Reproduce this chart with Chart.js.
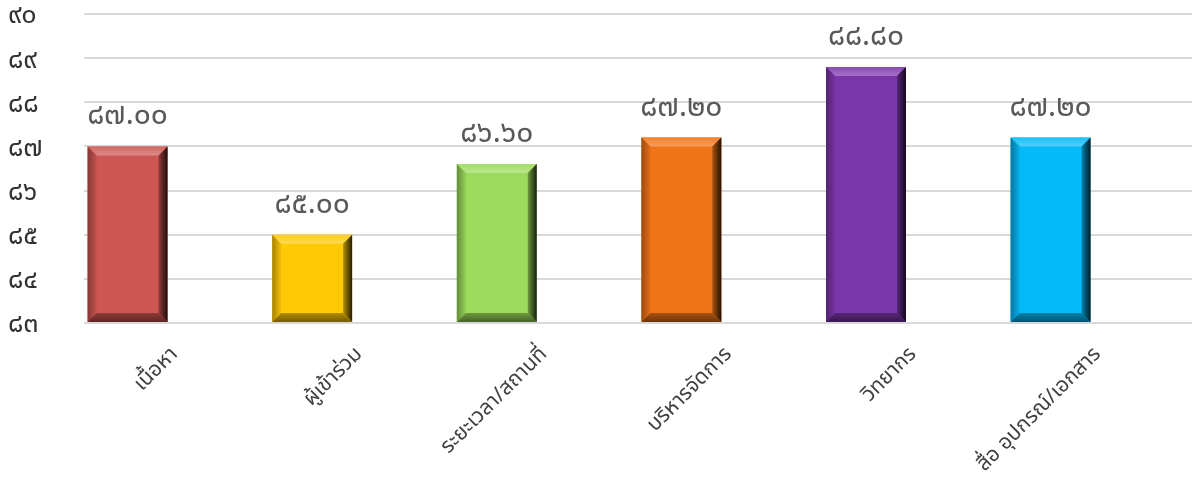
<!DOCTYPE html>
<html><head><meta charset="utf-8">
<script src="https://cdn.jsdelivr.net/npm/chart.js@4/dist/chart.umd.min.js"></script>
<style>html,body{margin:0;padding:0;background:#fff;}#wrap{width:1192px;height:481px;position:relative;}</style>
</head><body><div id="wrap"><canvas id="c" width="1192" height="481"></canvas></div>
<script>
const categories = ['เนื้อหา','ผู้เข้าร่วม','ระยะเวลา/สถานที่','บริหารจัดการ','วิทยากร','สื่อ อุปกรณ์/เอกสาร'];
const scores = [87.00, 85.00, 86.60, 87.20, 88.80, 87.20];
const barColors = ['#CD5652','#FFC906','#9BDA5A','#F07317','#7C36AC','#06B9F7'];
const yTickValues = [83,84,85,86,87,88,89,90];
const thaiDigits = ['๐','๑','๒','๓','๔','๕','๖','๗','๘','๙'];
const toThai = s => String(s).replace(/[0-9]/g, d => thaiDigits[+d]);
const FONT = "'Noto Sans Thai','Noto Sans','Tahoma','DejaVu Sans',sans-serif";

function shade(hex, f){
  const n=parseInt(hex.slice(1),16);let r=n>>16,g=(n>>8)&255,b=n&255;
  if(f>=0){r+= (255-r)*f; g+=(255-g)*f; b+=(255-b)*f;} else {r*=1+f; g*=1+f; b*=1+f;}
  return `rgb(${Math.round(r)},${Math.round(g)},${Math.round(b)})`;
}

const bevelPlugin = {
  id:'bevel',
  afterDatasetDraw(chart, args){
    const ctx=chart.ctx;
    args.meta.data.forEach((el,i)=>{
      const p=el.getProps(['x','y','base','width'],true);
      const x0=p.x-p.width/2, x1=p.x+p.width/2, y0=p.y, y1=p.base, b=9;
      const c=barColors[i];
      ctx.save();
      let g=ctx.createLinearGradient(0,y0,0,y0+b);
      g.addColorStop(0,shade(c,0.1)); g.addColorStop(1,shade(c,0.3));
      ctx.fillStyle=g; ctx.beginPath();
      ctx.moveTo(x0,y0);ctx.lineTo(x1,y0);ctx.lineTo(x1-b,y0+b);ctx.lineTo(x0+b,y0+b);ctx.closePath();ctx.fill();
      g=ctx.createLinearGradient(x0,0,x0+b,0);
      g.addColorStop(0,shade(c,-0.35)); g.addColorStop(1,shade(c,-0.05));
      ctx.fillStyle=g; ctx.beginPath();
      ctx.moveTo(x0,y0);ctx.lineTo(x0+b,y0+b);ctx.lineTo(x0+b,y1-b);ctx.lineTo(x0,y1);ctx.closePath();ctx.fill();
      g=ctx.createLinearGradient(x1-b,0,x1,0);
      g.addColorStop(0,shade(c,-0.3)); g.addColorStop(1,shade(c,-0.85));
      ctx.fillStyle=g; ctx.beginPath();
      ctx.moveTo(x1,y0);ctx.lineTo(x1,y1);ctx.lineTo(x1-b,y1-b);ctx.lineTo(x1-b,y0+b);ctx.closePath();ctx.fill();
      g=ctx.createLinearGradient(0,y1-b,0,y1);
      g.addColorStop(0,shade(c,-0.3)); g.addColorStop(1,shade(c,-0.55));
      ctx.fillStyle=g; ctx.beginPath();
      ctx.moveTo(x0,y1);ctx.lineTo(x0+b,y1-b);ctx.lineTo(x1-b,y1-b);ctx.lineTo(x1,y1);ctx.closePath();ctx.fill();
      ctx.restore();
    });
  }
};

const labelPlugin = {
  id:'vals',
  afterDatasetsDraw(chart){
    const ctx=chart.ctx; const meta=chart.getDatasetMeta(0);
    ctx.save();
    ctx.font=`30px ${FONT}`; ctx.fillStyle='#595959'; ctx.textAlign='center'; ctx.textBaseline='middle';
    meta.data.forEach((el,i)=>{
      ctx.fillText(toThai(scores[i].toFixed(2)), el.x, el.y-28);
    });
    ctx.restore();
  }
};

new Chart(document.getElementById('c'),{
  type:'bar',
  data:{
    datasets:[{
      data: scores.map((v,i)=>({x:i,y:v})),
      base: yTickValues[0],
      backgroundColor: barColors,
      borderWidth:0,
      barPercentage:0.433,
      categoryPercentage:1.0
    }]
  },
  options:{
    responsive:false, animation:false,
    layout:{padding:{top:14,right:0,left:8,bottom:0}},
    plugins:{legend:{display:false},tooltip:{enabled:false}},
    scales:{
      x:{
        type:'linear', min:-0.236, max:5.766, offset:false,
        afterFit(s){s.height=158; s.paddingLeft=0; s.paddingRight=0;},
        afterBuildTicks(s){s.ticks=categories.map((c,i)=>({value:i}));},
        grid:{display:false},
        border:{display:false},
        ticks:{
          autoSkip:false, maxRotation:45, minRotation:45,
          font:{family:FONT,size:21}, color:'#404040',
          callback:(v)=>categories[v], padding:12, labelOffset:48
        }
      },
      y:{
        min:83, max:90,
        afterFit(s){s.width=76; s.paddingTop=0; s.paddingBottom=0;},
        afterBuildTicks(s){s.ticks=yTickValues.map(v=>({value:v}));},
        grid:{color:'#d9d9d9', lineWidth:2, drawTicks:false},
        border:{display:false},
        ticks:{
          font:{family:FONT,size:27}, color:'#333333', crossAlign:'far', padding:10, labelOffset:4,
          callback:(v)=>toThai(v)
        }
      }
    }
  },
  plugins:[bevelPlugin,labelPlugin]
});
</script></body></html>
